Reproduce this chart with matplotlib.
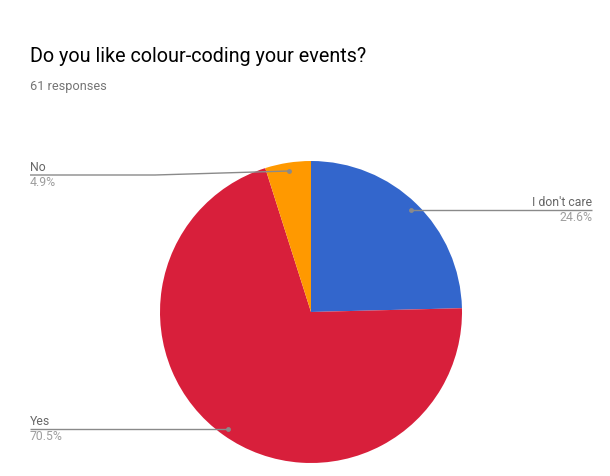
import numpy as np
import matplotlib
matplotlib.use("Agg")
import matplotlib.pyplot as plt

title = "Do you like colour-coding your events?"
subtitle = "61 responses"
labels = ["I don't care", "Yes", "No"]
values = [24.6, 70.5, 4.9]
colors = ["#3366CC", "#D81F3B", "#FF9900"]

plt.rcParams["font.family"] = ["Roboto", "DejaVu Sans"]

W, H = 610, 476
fig = plt.figure(figsize=(W / 100, H / 100), dpi=100)
ax = fig.add_axes([0, 0, 1, 1])

def Y(y):
    return H - y

cx, cy, r = 311, 312, 151
wedges, _ = ax.pie(values, colors=colors, startangle=90, counterclock=False,
                   center=(cx, Y(cy)), radius=r, frame=True,
                   wedgeprops=dict(linewidth=0))
ax.set_xlim(0, W)
ax.set_ylim(0, H)
ax.set_aspect("equal")
ax.axis("off")

fig.text(30 / W, 1 - 62 / H, title, fontsize=14.2, color="#000000")
fig.text(30 / W, 1 - 90 / H, subtitle, fontsize=9.2, color="#757575")

# label layout: (side, line y, line end x)
layout = {
    "I don't care": ("right", 210, 592),
    "Yes": ("left", 429, 30),
    "No": ("left", 175, 30),
}
line_col = "#8a8a8a"
for w, lab, val in zip(wedges, labels, values):
    mid = np.deg2rad((w.theta1 + w.theta2) / 2)
    dx = cx + 0.945 * r * np.cos(mid)
    dy = Y(cy) + 0.945 * r * np.sin(mid)
    side, ly, lx = layout[lab]
    if lab == "No":
        xs = [lx, 155, dx]
        ys = [Y(ly), Y(ly), dy]
    else:
        xs = [lx, dx]
        ys = [Y(ly), Y(ly)]
        dy = Y(ly)
    ax.plot(xs, ys, color=line_col, lw=1, solid_capstyle="butt", zorder=3)
    ax.plot([dx], [dy], "o", ms=3.5, color=line_col, zorder=4, mec="none")
    ha = "right" if side == "right" else "left"
    ax.text(lx, Y(ly) + 4, lab, ha=ha, va="baseline", fontsize=8.8, color="#666666")
    ax.text(lx, Y(ly) - 11, f"{val}%", ha=ha, va="baseline", fontsize=8.8, color="#9e9e9e")

fig.savefig("out.png", dpi=100)
